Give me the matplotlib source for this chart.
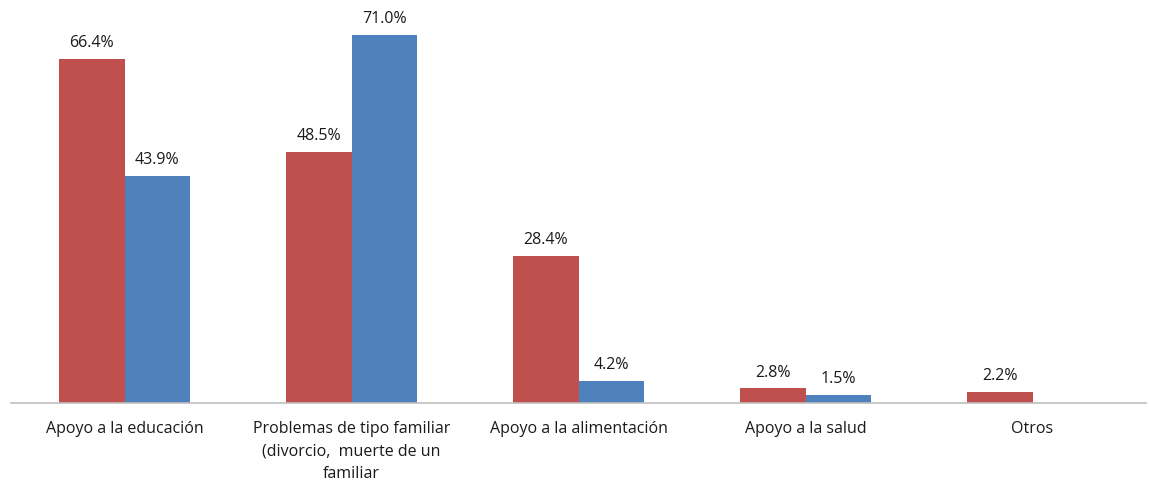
import matplotlib
matplotlib.use("Agg")
import matplotlib.pyplot as plt
import numpy as np

categories = [
    "Apoyo a la educación",
    "Problemas de tipo familiar\n(divorcio,  muerte de un\nfamiliar",
    "Apoyo a la alimentación",
    "Apoyo a la salud",
    "Otros",
]
serie_roja = [66.4, 48.5, 28.4, 2.8, 2.2]
serie_azul = [43.9, 71.0, 4.2, 1.5, None]

RED = "#C0504D"
BLUE = "#4F81BD"

plt.rcParams["font.family"] = ["Open Sans", "DejaVu Sans"]

fig = plt.figure(figsize=(11.49, 4.81), dpi=100)
ax = fig.add_axes([11 / 1149, 1 - 404 / 481, 1135 / 1149, 404 / 481])

x = np.arange(len(categories))
w = 0.287
for xi, v in zip(x, serie_roja):
    if v is None:
        continue
    ax.bar(xi - w / 2, v, w, color=RED)
    ax.text(xi - w / 2, v + 1.7, f"{v:.1f}%", ha="center", va="bottom", fontsize=11.5, color="#1a1a1a")
for xi, v in zip(x, serie_azul):
    if v is None:
        continue
    ax.bar(xi + w / 2, v, w, color=BLUE)
    ax.text(xi + w / 2, v + 1.7, f"{v:.1f}%", ha="center", va="bottom", fontsize=11.5, color="#1a1a1a")

ax.set_xlim(-0.5, len(categories) - 0.5)
ax.set_ylim(0, 78)
ax.set_xticks(x)
ax.set_xticklabels(categories, fontsize=11.5, color="#1a1a1a", linespacing=1.55, va="top")
ax.tick_params(axis="x", length=0, pad=12)
ax.set_yticks([])
for s in ("top", "right", "left"):
    ax.spines[s].set_visible(False)
ax.spines["bottom"].set_color("#BFBFBF")
ax.spines["bottom"].set_linewidth(1.2)

fig.savefig("out.png", dpi=100)
